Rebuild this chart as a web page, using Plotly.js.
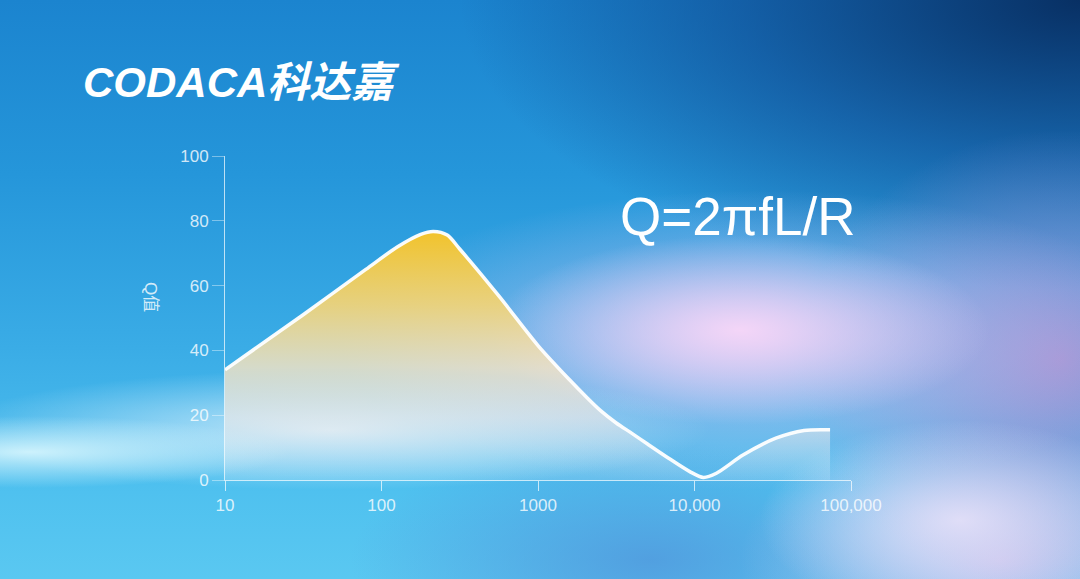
<!DOCTYPE html>
<html>
<head>
<meta charset="utf-8">
<script src="https://cdn.plot.ly/plotly-3.0.1.min.js"></script>
<style>
html,body{margin:0;padding:0;width:1080px;height:579px;overflow:hidden;}
#chart{width:1080px;height:579px;
background:
 radial-gradient(ellipse 260px 36px at 30px 452px, rgba(225,250,255,0.85), rgba(225,250,255,0) 100%),
 radial-gradient(ellipse 380px 60px at 330px 430px, rgba(236,246,255,0.75), rgba(236,246,255,0) 100%),
 radial-gradient(ellipse 200px 100px at 960px 520px, rgba(235,228,250,0.85), rgba(235,228,250,0) 100%),
 radial-gradient(ellipse 250px 95px at 740px 330px, rgba(248,215,248,0.95), rgba(245,205,245,0) 100%),
 radial-gradient(ellipse 420px 150px at 760px 340px, rgba(225,195,240,0.7), rgba(225,195,240,0) 100%),
 radial-gradient(ellipse 260px 230px at 1060px 360px, rgba(160,145,210,0.95), rgba(160,145,210,0) 100%),
 radial-gradient(ellipse 260px 140px at 1000px 560px, rgba(200,190,235,0.9), rgba(200,190,235,0) 100%),
 radial-gradient(ellipse 620px 290px at 1080px 0px, rgba(8,48,100,1), rgba(14,70,140,0.6) 55%, rgba(20,90,170,0) 100%),
 radial-gradient(ellipse 300px 120px at 650px 560px, rgba(80,150,220,0.8), rgba(80,150,220,0) 100%),
 linear-gradient(180deg, #1b84cf 0%, #2596da 30%, #3aace6 60%, #4fc1ef 85%, #5ac8f1 100%);
}
</style>
</head>
<body>
<div id="chart"></div>
<script>
// Frequency (x, log scale) and Q value (y)
var freq = [10, 31.6, 79.4, 126, 178, 214, 263, 316, 562, 1000, 1585, 2000, 2512, 3162, 3981, 5012, 6607, 9333, 11400, 13800, 20400, 33100, 50100, 73500];
var qVal = [34.0, 51.0, 65.0, 71.9, 75.8, 76.7, 75.6, 71.3, 56.8, 41.5, 31.0, 26.0, 21.4, 17.6, 14.4, 11.1, 7.2, 2.6, 0.8, 2.1, 7.7, 12.9, 15.3, 15.5];

var tickVals = [10, 100, 1000, 10000, 100000];
var tickText = ["10", "100", "1000", "10,000", "100,000"];
var yTicks = [0, 20, 40, 60, 80, 100];

var formulaText = "Q=2πfL/R";
var logoText = "<b><i>CODACA科达嘉</i></b>";
var yTitleText = "Q值";

var tickColor = "rgba(255,255,255,0.8)";
var axisColor = "rgba(255,255,255,0.7)";

var traces = [
  {
    x: freq, y: qVal, type: "scatter", mode: "lines",
    line: {color: "rgba(0,0,0,0)", width: 0, shape: "spline", smoothing: 0.8},
    fill: "tozeroy",
    fillgradient: {
      type: "vertical", start: 0, stop: 77,
      colorscale: [
        [0, "rgba(240,244,252,0.15)"],
        [0.25, "rgba(248,236,230,0.6)"],
        [0.45, "rgba(247,228,195,0.82)"],
        [0.7, "rgba(243,212,120,0.93)"],
        [1, "rgba(242,195,42,1)"]
      ]
    },
    hoverinfo: "skip", showlegend: false
  },
  {
    x: freq, y: qVal, type: "scatter", mode: "lines",
    line: {color: "rgba(255,255,255,0.95)", width: 3.5, shape: "spline", smoothing: 0.8},
    showlegend: false
  }
];

var layout = {
  width: 1080, height: 579,
  margin: {l: 225, r: 229, t: 156, b: 99},
  paper_bgcolor: "rgba(0,0,0,0)",
  plot_bgcolor: "rgba(0,0,0,0)",
  font: {family: "Liberation Sans, Arial, sans-serif", color: tickColor},
  xaxis: {
    type: "log", range: [1, 5],
    tickvals: tickVals, ticktext: tickText,
    showgrid: false, zeroline: false,
    showline: true, linecolor: axisColor, linewidth: 1,
    ticks: "outside", ticklen: 10, tickcolor: axisColor, tickwidth: 1,
    tickfont: {size: 17, color: tickColor}
  },
  yaxis: {
    range: [0, 100],
    tickvals: yTicks,
    showgrid: false, zeroline: false,
    showline: true, linecolor: axisColor, linewidth: 1,
    ticks: "outside", ticklen: 12, tickcolor: "rgba(255,255,255,0.4)", tickwidth: 1,
    tickfont: {size: 17, color: tickColor}
  },
  annotations: [
    {
      text: formulaText, xref: "paper", yref: "paper", x: 0.628, y: 0.812,
      xanchor: "left", yanchor: "middle", showarrow: false,
      font: {family: "Liberation Sans, Arial, sans-serif", size: 53, color: "#ffffff"}
    },
    {
      text: logoText, xref: "paper", yref: "paper", x: -0.23, y: 1.228,
      xanchor: "left", yanchor: "middle", showarrow: false,
      font: {family: "Liberation Sans, Noto Sans CJK SC, sans-serif", size: 42, color: "#ffffff"}
    },
    {
      text: yTitleText, xref: "paper", yref: "paper", x: -0.12, y: 0.565,
      xanchor: "center", yanchor: "middle", showarrow: false, textangle: 90,
      font: {family: "Liberation Sans, Noto Sans CJK SC, sans-serif", size: 17, color: tickColor}
    }
  ]
};

Plotly.newPlot("chart", traces, layout, {displayModeBar: false, staticPlot: true});
</script>
</body>
</html>
